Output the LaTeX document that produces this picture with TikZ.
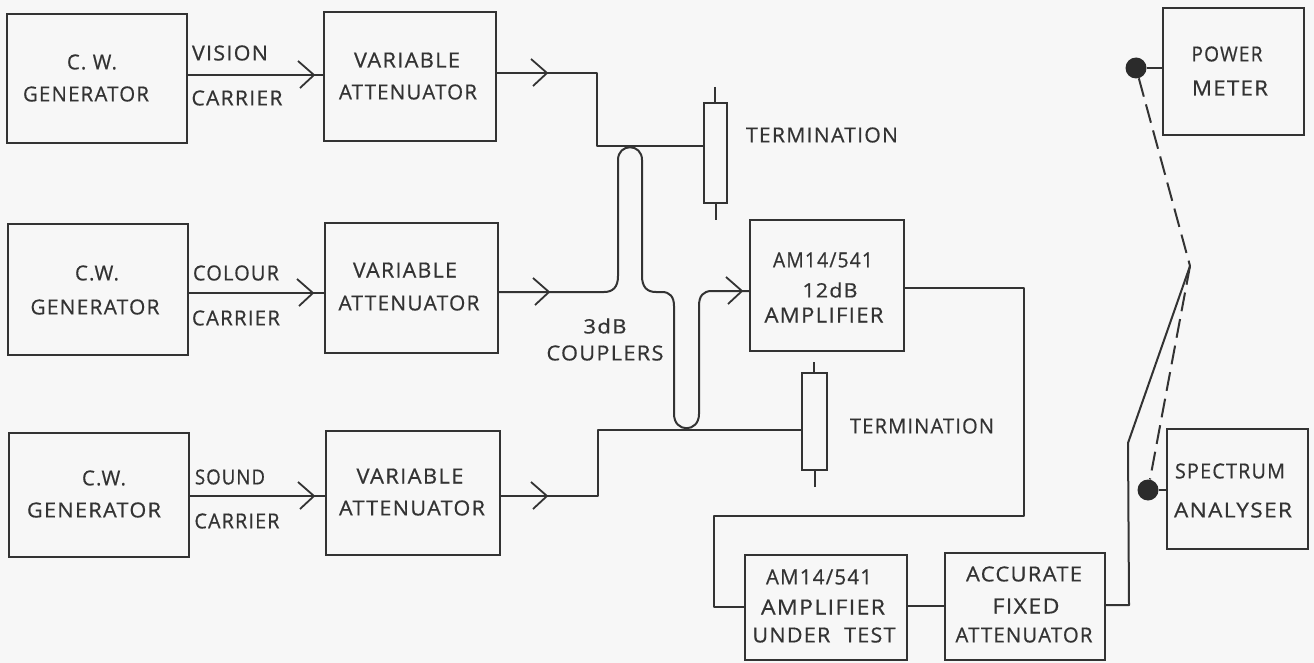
\documentclass[tikz,border=0pt]{standalone}
\usepackage{fontspec}
\usepackage{graphicx}
\setmainfont[LetterSpace=6,FakeBold=0.6]{Open Sans}
\usetikzlibrary{fit}
\definecolor{ink}{HTML}{333333}
\definecolor{paper}{HTML}{F7F7F7}
\newcommand{\fitt}[2]{\resizebox{#1pt}{15pt}{#2}}
\newcommand{\chev}[1]{\draw[wire,line width=1.8pt] (#1) ++(-16,-14) -- (#1) -- ++(-14,13);}
\tikzset{
  wire/.style={draw=ink,line width=2pt,line join=round},
  blk/.style={draw=ink,line width=2.1pt,inner sep=0pt,rectangle},
  lbl/.style={text=ink,inner sep=0pt,anchor=center},
  jack/.style={circle,fill=ink!85!black,draw=none,minimum size=21pt,inner sep=0pt},
  dashline/.style={draw=ink,line width=2pt,dash pattern=on 19pt off 8pt}
}
\begin{document}
\begin{tikzpicture}[x=1pt,y=-1pt]
\useasboundingbox[fill=paper] (0,0) rectangle (1314,663);
% boxes
\node[blk,fit={(7,14)(187,143)}] (cw1) {};
\node[blk,fit={(8,224)(188,355)}] (cw2) {};
\node[blk,fit={(9,433)(189,557)}] (cw3) {};
\node[blk,fit={(324,12)(496,141)}] (va1) {};
\node[blk,fit={(325,223)(498,353)}] (va2) {};
\node[blk,fit={(326,431)(500,555)}] (va3) {};
\node[blk,fit={(704,103)(727,203)}] (t1) {};
\node[blk,fit={(802,373)(827,470)}] (t2) {};
\node[blk,fit={(750,220)(904,351)}] (amp) {};
\node[blk,fit={(745,555)(907,660)}] (aut) {};
\node[blk,fit={(945,553)(1105,660)}] (afa) {};
\node[blk,fit={(1163,8)(1304,135)}] (pm) {};
\node[blk,fit={(1167,429)(1308,549)}] (sa) {};
\node[jack] (j1) at (1136,68) {};
\node[jack] (j2) at (1148,490) {};
% coordinates
\coordinate (a1) at (314,75);
\coordinate (a2) at (313,293);
\coordinate (a3) at (314,496);
\coordinate (b1) at (547,73);
\coordinate (b2) at (549,292);
\coordinate (b3) at (547,496);
\coordinate (b4) at (742,291);
\coordinate (n1) at (597,146);
\coordinate (n3) at (598,430);
\coordinate (apex) at (1190,266);
\coordinate (bend) at (1128,443);
% generator to attenuator
\draw[wire] (cw1.east |- a1) -- (a1) -- (va1.west |- a1);
\draw[wire] (cw2.east |- a2) -- (a2) -- (va2.west |- a2);
\draw[wire] (cw3.east |- a3) -- (a3) -- (va3.west |- a3);
\chev{a1}\chev{a2}\chev{a3}
% attenuator outputs
\draw[wire] (va1.east |- b1) -- (b1) -| (n1) -- (t1.west |- n1);
\draw[wire] (va3.east |- b3) -- (b3) -| (n3) -- (t2.west |- n3);
\chev{b1}\chev{b3}\chev{b2}\chev{b4}
% couplers
\draw[wire] (va2.east |- b2) -- (b2) -- (604,292)
  .. controls (613,292) and (618,287) .. (618,276) -- (618,160)
  .. controls (618,143) and (642,143) .. (642,160) -- (642,276)
  .. controls (642,287) and (647,292) .. (656,292) -- (662,292)
  .. controls (670,292) and (674,297) .. (674,306) -- (674,414)
  .. controls (674,433) and (699,433) .. (699,414) -- (699,306)
  .. controls (699,296) and (703,291) .. (712,291) -- (b4) -- (amp.west |- b4);
% terminations stubs
\coordinate (s1) at (715,87); \coordinate (s2) at (716,220);
\coordinate (s3) at (814,362); \coordinate (s4) at (815,487);
\draw[wire] (s1) -- (s1 |- t1.north);
\draw[wire] (s2) -- (s2 |- t1.south);
\draw[wire] (s3) -- (s3 |- t2.north);
\draw[wire] (s4) -- (s4 |- t2.south);
% chain
\coordinate (c1) at (1024,288);
\coordinate (c2) at (1024,516);
\coordinate (c3) at (714,516);
\coordinate (c4) at (714,607);
\draw[wire] (amp.east |- c1) -- (c1) -- (c2) -- (c3) -- (c4) -- (aut.west |- c4);
\coordinate (c5) at (926,606);
\draw[wire] (aut.east |- c5) -- (afa.west |- c5);
\coordinate (c6) at (1129,605);
\draw[wire] (afa.east |- c6) -- (c6) -- (bend) -- (apex);
% switch
\draw[dashline] (j1) -- (apex);
\draw[dashline] (apex) -- (j2);
\draw[wire] (j1) -- (pm.west |- j1);
\draw[wire] (j2) -- (sa.west |- j2);
% labels
\node[lbl] (t01) at (92,62) {\fitt{50}{C. W.}};
\node[lbl] (t02) at (86,94) {\fitt{126}{GENERATOR}};
\node[lbl] (t03) at (230,53) {\fitt{76}{VISION}};
\node[lbl] (t04) at (237,98) {\fitt{91}{CARRIER}};
\node[lbl] (t05) at (407,60) {\fitt{106}{VARIABLE}};
\node[lbl] (t06) at (408,92) {\fitt{138}{ATTENUATOR}};
\node[lbl] (t07) at (97,273) {\fitt{44}{C.W.}};
\node[lbl] (t08) at (95,307) {\fitt{129}{GENERATOR}};
\node[lbl] (t09) at (236,273) {\fitt{86}{COLOUR}};
\node[lbl] (t10) at (236,318) {\fitt{88}{CARRIER}};
\node[lbl] (t11) at (405,270) {\fitt{104}{VARIABLE}};
\node[lbl] (t12) at (409,303) {\fitt{141}{ATTENUATOR}};
\node[lbl] (t13) at (104,478) {\fitt{44}{C.W.}};
\node[lbl] (t14) at (94,510) {\fitt{134}{GENERATOR}};
\node[lbl] (t15) at (230,477) {\fitt{70}{SOUND}};
\node[lbl] (t16) at (237,521) {\fitt{85}{CARRIER}};
\node[lbl] (t17) at (410,476) {\fitt{107}{VARIABLE}};
\node[lbl] (t18) at (412,508) {\fitt{146}{ATTENUATOR}};
\node[lbl] (t19) at (822,135) {\fitt{152}{TERMINATION}};
\node[lbl] (t20) at (922,426) {\fitt{144}{TERMINATION}};
\node[lbl] (t21) at (605,326) {\fitt{43}{3dB}};
\node[lbl] (t22) at (605,353) {\fitt{117}{COUPLERS}};
\node[lbl] (t23) at (823,260) {\fitt{100}{AM14/541}};
\node[lbl] (t24) at (830,290) {\fitt{55}{12dB}};
\node[lbl] (t25) at (824,315) {\fitt{119}{AMPLIFIER}};
\node[lbl] (t26) at (819,577) {\fitt{106}{AM14/541}};
\node[lbl] (t27) at (823,607) {\fitt{124}{AMPLIFIER}};
\node[lbl] (t28) at (824,635) {\fitt{143}{UNDER\ \ TEST}};
\node[lbl] (t29) at (1024,574) {\fitt{116}{ACCURATE}};
\node[lbl] (t30) at (1026,606) {\fitt{67}{FIXED}};
\node[lbl] (t31) at (1024,635) {\fitt{137}{ATTENUATOR}};
\node[lbl] (t32) at (1227,54) {\fitt{71}{POWER}};
\node[lbl] (t33) at (1230,88) {\fitt{76}{METER}};
\node[lbl] (t34) at (1230,471) {\fitt{110}{SPECTRUM}};
\node[lbl] (t35) at (1233,510) {\fitt{118}{ANALYSER}};
\end{tikzpicture}
\end{document}
